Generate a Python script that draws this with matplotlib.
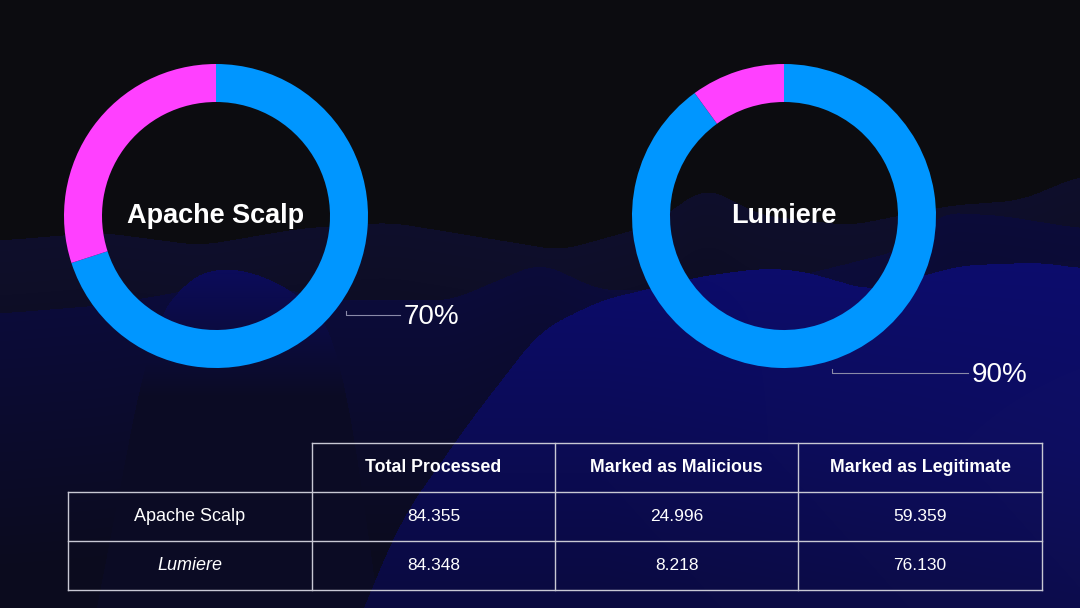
"""Donut comparison of Apache Scalp vs Lumiere with a summary table below."""
import matplotlib
matplotlib.use("Agg")
import matplotlib.pyplot as plt
import numpy as np

plt.rcParams["font.family"] = ["Liberation Sans", "DejaVu Sans"]

# --- data -------------------------------------------------------------------
systems = ["Apache Scalp", "Lumiere"]
legit_share = [70, 90]          # % marked legitimate (blue)
malicious_share = [30, 10]      # % marked malicious (pink)
pct_labels = ["70%", "90%"]

col_headers = ["Total Processed", "Marked as Malicious", "Marked as Legitimate"]
total_processed = ["84.355", "84.348"]
marked_malicious = ["24.996", "8.218"]
marked_legitimate = ["59.359", "76.130"]

BLUE = "#0096ff"
PINK = "#ff40ff"
BG = "#0c0c10"
W, H = 1080, 608

fig = plt.figure(figsize=(10.8, 6.08), dpi=100)
fig.patch.set_facecolor(BG)
ax = fig.add_axes([0, 0, 1, 1])
ax.set_facecolor(BG)


def py(y):
    """pixel row (from top) -> axes y (from bottom)"""
    return H - y


def hex_rgb(h):
    h = h.lstrip("#")
    return np.array([int(h[i:i + 2], 16) for i in (0, 2, 4)]) / 255.0


def ridge(xs, ys, k=41):
    x = np.arange(W)
    y = np.interp(x, xs, ys, left=ys[0], right=ys[-1])
    pad = k // 2
    y = np.convolve(np.pad(y, pad, mode="edge"), np.ones(k) / k, mode="valid")
    return y


# --- background mountains (decoration only) ---------------------------------
# ridge x, ridge y, colour at top, colour deep below, fade depth px,
# fade origin (None = follow the ridge, number = fixed pixel row)
layers = [
    ([0, 100, 200, 300, 390, 470, 560, 650, 705, 760, 850, 950, 1020, 1080],
     [240, 232, 245, 228, 222, 235, 250, 225, 186, 215, 225, 205, 200, 175],
     "#0f0f2c", "#0b0b18", 220, None),
    ([0, 100, 160, 213, 270, 330, 450, 540, 600, 700, 800, 900, 940, 1000, 1080],
     [313, 305, 295, 285, 285, 300, 300, 262, 290, 290, 275, 250, 212, 215, 228],
     "#0c0c3a", "#0b0b1e", 260, None),
    ([40, 150, 180, 213, 255, 300, 340, 420],
     [900, 330, 285, 267, 272, 295, 340, 900],
     "#0b0b5c", "#0b0b24", 130, 267),
    ([300, 400, 470, 540, 600, 700, 760, 800, 870, 960, 1040, 1080],
     [760, 520, 420, 330, 300, 276, 268, 270, 290, 265, 262, 268],
     "#0c0c6c", "#0a0a36", 420, 262),
]
yy, xx = np.mgrid[0:H, 0:W]
img = np.ones((H, W, 3)) * hex_rgb(BG)
for xs, ys, top_c, deep_c, depth, origin in layers:
    r = ridge(xs, ys)
    below = yy >= r[None, :]
    ref = r[None, :] if origin is None else origin
    t = np.clip((yy - ref) / depth, 0, 1)[..., None]
    col = (1 - t) * hex_rgb(top_c) + t * hex_rgb(deep_c)
    img = np.where(below[..., None], col, img)
# slight extra glow toward the right edge
glow = np.clip((xx - 600) / 480, 0, 1)[..., None] * np.clip((yy - 250) / 200, 0, 1)[..., None]
img = np.clip(img + glow * 0.05 * np.array([0.2, 0.2, 1.0]) * (img[..., 2:3] > 0.15), 0, 1)
ax.imshow(img, extent=(0, W, 0, H), origin="upper", aspect="auto", zorder=0,
          interpolation="bilinear")

# --- donuts -----------------------------------------------------------------
centers_x = [216, 784]
center_y = 216
r_out = 152
ring = 38
for i, name in enumerate(systems):
    ax.pie([legit_share[i], malicious_share[i]], colors=[BLUE, PINK],
           startangle=90, counterclock=False, radius=r_out,
           center=(centers_x[i], py(center_y)),
           wedgeprops=dict(width=ring, linewidth=0), frame=True)
    ax.text(centers_x[i], py(center_y), name, color="white", fontsize=19.5,
            fontweight="bold", ha="center", va="center", zorder=5)

# percentage call-outs with leader lines
leaders = [(346, 400, 315), (832, 968, 373)]
for (x0, x1, yl), lab in zip(leaders, pct_labels):
    ax.plot([x0, x0, x1], [py(yl - 4), py(yl), py(yl)], color="#8a8aa8", lw=0.8,
            zorder=4)
    ax.text(x1 + 4, py(yl + 2), lab, color="white", fontsize=20,
            ha="left", va="center", zorder=5)

# --- table ------------------------------------------------------------------
cx = [68, 312, 555, 798, 1042]
ry = [443, 492, 541, 590]
lc = "#c8c8d4"
lw = 1.0
ax.plot([cx[1], cx[4]], [py(ry[0])] * 2, color=lc, lw=lw, zorder=4)
for yv in ry[1:]:
    ax.plot([cx[0], cx[4]], [py(yv)] * 2, color=lc, lw=lw, zorder=4)
ax.plot([cx[0], cx[0]], [py(ry[1]), py(ry[3])], color=lc, lw=lw, zorder=4)
for xv in cx[1:]:
    ax.plot([xv, xv], [py(ry[0]), py(ry[3])], color=lc, lw=lw, zorder=4)

for j, h in enumerate(col_headers):
    ax.text((cx[j + 1] + cx[j + 2]) / 2, py((ry[0] + ry[1]) / 2), h,
            color="white", fontsize=12.8, fontweight="bold",
            ha="center", va="center", zorder=5)

rows = list(zip(systems, total_processed, marked_malicious, marked_legitimate))
for i, row in enumerate(rows):
    ymid = py((ry[i + 1] + ry[i + 2]) / 2)
    for j, val in enumerate(row):
        style = "italic" if (j == 0 and i == 1) else "normal"
        ax.text((cx[j] + cx[j + 1]) / 2, ymid, val, color="white",
                fontsize=13 if j == 0 else 12.5,
                fontstyle=style, ha="center", va="center", zorder=5)

ax.set_xlim(0, W)
ax.set_ylim(0, H)
ax.set_aspect("auto")
ax.axis("off")

fig.savefig("out.png", dpi=100, facecolor=BG)
